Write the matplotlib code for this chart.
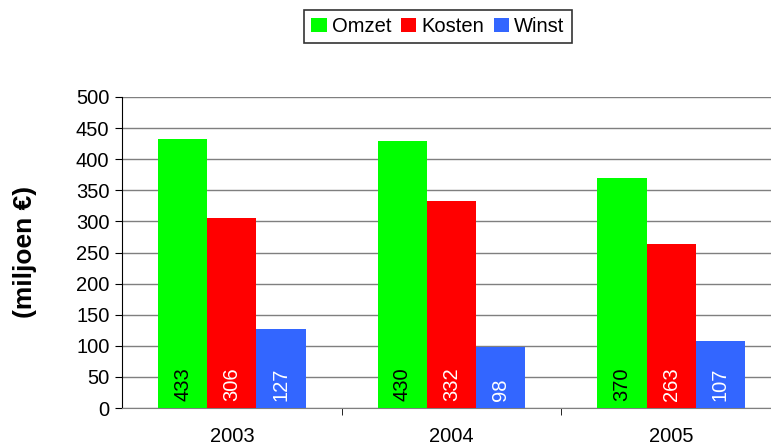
import matplotlib
matplotlib.use("Agg")
import matplotlib.pyplot as plt
import numpy as np

plt.rcParams['font.family'] = ['Liberation Sans', 'DejaVu Sans']

years = ["2003", "2004", "2005"]
series_names = ["Omzet", "Kosten", "Winst"]
omzet = [433, 430, 370]
kosten = [306, 332, 263]
winst = [127, 98, 107]
colors = ["#00FF00", "#FF0000", "#3366FF"]
label_colors = ["black", "white", "white"]

fig = plt.figure(figsize=(7.71, 4.47), dpi=100)
ax = fig.add_axes([122/771, 39/447, 659/771, 311/447])

x = np.arange(len(years))
w = 0.224
handles = []
for i, (vals, c, lc, name) in enumerate(zip([omzet, kosten, winst], colors, label_colors, series_names)):
    pos = x + (i - 1) * w
    b = ax.bar(pos, vals, width=w, color=c, label=name, zorder=3)
    handles.append(b)
    for p, v in zip(pos, vals):
        ax.text(p, 12, str(v), rotation=90, ha='center', va='bottom',
                color=lc, fontsize=14.5, zorder=4)

ax.set_xlim(-0.5, 2.5)
ax.set_ylim(0, 500)
ax.set_yticks(np.arange(0, 501, 50))
ax.tick_params(axis='y', labelsize=14.5, length=5, color='black', pad=4)
ax.yaxis.grid(True, color='#7f7f7f', linewidth=1.0, zorder=0)
ax.set_axisbelow(True)

ax.set_xticks(x)
ax.set_xticklabels(years, fontsize=14.5)
ax.tick_params(axis='x', which='major', length=0, pad=14)
ax.set_xticks([0.5, 1.5], minor=True)
ax.tick_params(axis='x', which='minor', length=5, color='black')

for s in ['top', 'right']:
    ax.spines[s].set_visible(False)
ax.spines['left'].set_color('black')
ax.spines['bottom'].set_color('#7f7f7f')

fig.text(25/771, 1 - 252/447, "(miljoen €)", rotation=90, ha='center', va='center',
         fontsize=19, fontweight='bold')

leg = fig.legend(handles=handles, labels=series_names, loc='center',
                 bbox_to_anchor=(438/771, 1 - 26.5/447), ncol=3, fontsize=14.5,
                 frameon=True, fancybox=False, edgecolor='black',
                 handlelength=0.75, handleheight=0.75, handletextpad=0.25,
                 columnspacing=0.5, borderpad=0.35)
leg.get_frame().set_linewidth(1.2)

fig.savefig("out.png", dpi=100)
